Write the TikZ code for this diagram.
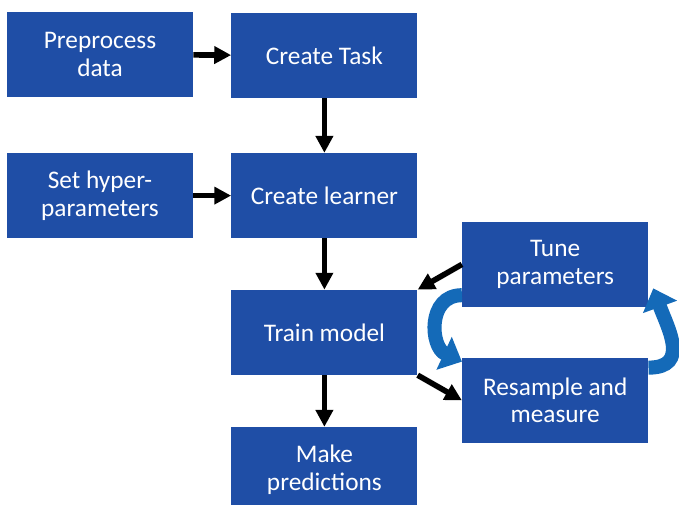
\documentclass[tikz,border=0pt]{standalone}
\usepackage{fontspec}
\setmainfont{Carlito}
\usepackage{tikz}
\usetikzlibrary{arrows.meta}
\definecolor{boxblue}{RGB}{31,78,166}
\definecolor{loopblue}{RGB}{20,106,184}

\begin{document}
\begin{tikzpicture}[
    stage/.style={fill=boxblue, text=white, align=center, minimum width=4.65cm, minimum height=2.125cm, inner sep=0pt, font=\fontsize{18}{19.5}\selectfont},
    flow/.style={line width=4pt, -{Triangle[length=12pt,width=12pt]}},
    loop/.style={loopblue, line width=10pt, looseness=1.35, -{Triangle[length=14pt,width=25pt]}}
  ]
            \useasboundingbox (0,0) rectangle (16.975,-12.6);

            \node[stage] (pre) at (2.5,-1.36) {Preprocess\\data};
            \node[stage] (task) at (8.11,-1.39) {Create Task};
            \node[stage] (hyp) at (2.5,-4.89) {Set hyper-\\parameters};
            \node[stage] (lrn) at (8.11,-4.89) {Create learner};
            \node[stage] (train) at (8.11,-8.31) {Train model};
            \node[stage] (pred) at (8.11,-11.74) {Make\\predictions};
            \node[stage] (tune) at (13.88,-6.61) {Tune\\parameters};
            \node[stage] (resamp) at (13.88,-10.01) {Resample and\\measure};

            \draw[flow] (pre) -- (task);
            \draw[flow] (task) -- (lrn);
            \draw[flow] (hyp) -- (lrn);
            \draw[flow] (lrn) -- (train);
            \draw[flow] (train) -- (pred);
            \draw[flow] (tune.west) -- (train.north east);
            \draw[flow] (train.south east) -- (resamp.west);

            \draw[loop] ([yshift=0.3cm]tune.south west) to[out=180,in=155] ([yshift=-0.1cm]resamp.north west);
            \draw[loop] ([yshift=-0.25cm]resamp.north east) to[out=0,in=-70] ([xshift=0.12cm,yshift=0.47cm]tune.south east);
            \end{tikzpicture}
\end{document}
